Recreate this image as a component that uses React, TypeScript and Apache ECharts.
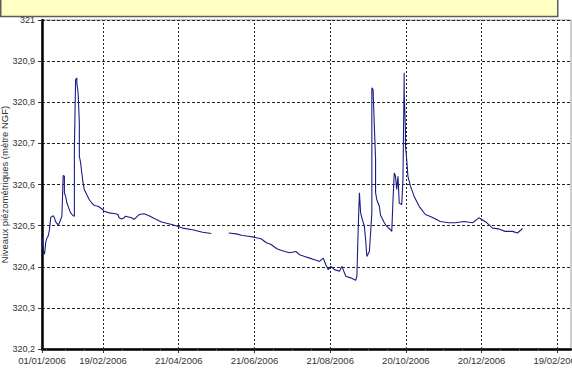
import React, { useEffect, useRef } from "react";
import * as echarts from "echarts";

// Measurement dates (yyyy-mm-dd) and piezometric levels (m NGF); null = gap in record
const dates: string[] = [
  "2006-01-01","2006-01-02","2006-01-03","2006-01-04","2006-01-05","2006-01-06","2006-01-07","2006-01-08",
  "2006-01-10","2006-01-11","2006-01-12","2006-01-14","2006-01-15","2006-01-16","2006-01-17","2006-01-18",
  "2006-01-19","2006-01-19","2006-01-20","2006-01-21","2006-01-23","2006-01-24","2006-01-26","2006-01-27",
  "2006-01-27","2006-01-28","2006-01-29","2006-01-29","2006-01-30","2006-01-31","2006-01-31","2006-02-01",
  "2006-02-02","2006-02-03","2006-02-04","2006-02-06","2006-02-08","2006-02-10","2006-02-12","2006-02-15",
  "2006-02-18","2006-02-20","2006-02-24","2006-03-01","2006-03-03","2006-03-04","2006-03-06","2006-03-08",
  "2006-03-09","2006-03-14","2006-03-16","2006-03-20","2006-03-24","2006-03-28","2006-04-02","2006-04-07",
  "2006-04-16","2006-04-24","2006-05-02","2006-05-10","2006-05-17","2006-05-24","2006-05-31","2006-06-06",
  "2006-06-11","2006-06-16","2006-06-20","2006-06-26","2006-06-30","2006-07-04","2006-07-09","2006-07-15",
  "2006-07-19","2006-07-24","2006-07-27","2006-07-31","2006-08-04","2006-08-08","2006-08-12","2006-08-15",
  "2006-08-17","2006-08-19","2006-08-21","2006-08-24","2006-08-28","2006-08-30","2006-09-02","2006-09-06",
  "2006-09-10","2006-09-11","2006-09-12","2006-09-13","2006-09-14","2006-09-15","2006-09-17","2006-09-18",
  "2006-09-19","2006-09-21","2006-09-22","2006-09-23","2006-09-23","2006-09-24","2006-09-25","2006-09-26",
  "2006-09-26","2006-09-27","2006-09-29","2006-09-30","2006-10-03","2006-10-05","2006-10-08","2006-10-09",
  "2006-10-10","2006-10-11","2006-10-12","2006-10-13","2006-10-14","2006-10-15","2006-10-17","2006-10-18",
  "2006-10-19","2006-10-19","2006-10-20","2006-10-20","2006-10-21","2006-10-22","2006-10-24","2006-10-27",
  "2006-10-31","2006-11-05","2006-11-10","2006-11-17","2006-11-24","2006-11-29","2006-12-06","2006-12-13",
  "2006-12-18","2006-12-24","2006-12-29","2007-01-03","2007-01-08","2007-01-14","2007-01-18","2007-01-21",
  "2007-01-22",
];

const levels: (number | null)[] = [
  320.47, 320.44, 320.43, 320.46, 320.47, 320.475, 320.49, 320.52,
  320.524, 320.519, 320.509, 320.502, 320.507, 320.515, 320.523, 320.622,
  320.62, 320.58, 320.571, 320.555, 320.539, 320.531, 320.524, 320.523,
  320.685, 320.855, 320.859, 320.847, 320.823, 320.75, 320.669, 320.653,
  320.628, 320.604, 320.588, 320.575, 320.563, 320.555, 320.549, 320.547,
  320.541, 320.535, 320.531, 320.529, 320.527, 320.519, 320.516, 320.519,
  320.523, 320.519, 320.515, 320.527, 320.529, 320.524, 320.516, 320.509,
  320.502, 320.494, 320.49, 320.484, 320.481, null, 320.482, 320.48,
  320.476, 320.474, 320.472, 320.468, 320.459, 320.454, 320.443, 320.437,
  320.434, 320.437, 320.429, 320.425, 320.421, 320.417, 320.413, 320.421,
  320.405, 320.393, 320.401, 320.393, 320.389, 320.401, 320.377, 320.373,
  320.367, 320.377, 320.49, 320.58, 320.531, 320.519, 320.498, 320.466,
  320.425, 320.437, 320.482, 320.531, 320.835, 320.831, 320.742, 320.661,
  320.58, 320.563, 320.547, 320.525, 320.507, 320.498, 320.49, 320.486,
  320.563, 320.628, 320.62, 320.588, 320.62, 320.555, 320.551, 320.612,
  320.872, 320.823, 320.734, 320.693, 320.661, 320.62, 320.596, 320.571,
  320.547, 320.527, 320.521, 320.51, 320.507, 320.507, 320.51, 320.507,
  320.519, 320.508, 320.494, 320.492, 320.486, 320.486, 320.482, 320.49,
  320.493,
];

const AXIS_START = "2006-01-01";
const AXIS_END = "2007-03-02";
const TICK_ORIGIN = "2006-02-19"; // first regular tick (ticks every two months)
const TICK_STEP_DAYS = 365 / 6;
const MINOR_PER_STEP = 4;
const Y_MIN = 320.2;
const Y_MAX = 321;
const Y_STEP = 0.1;
const Y_NAME = "Niveaux piézométriques (mètre NGF)";

const DAY = 86400000;
const parse = (s: string) => {
  const [y, m, d] = s.split("-").map(Number);
  return Date.UTC(y, m - 1, d);
};
const ORIGIN = parse(TICK_ORIGIN);
const toX = (s: string) => (parse(s) - ORIGIN) / DAY;
const pad = (n: number) => (n < 10 ? "0" + n : "" + n);
const fmtDate = (v: number) => {
  const d = new Date(ORIGIN + Math.round(v) * DAY);
  return `${pad(d.getUTCDate())}/${pad(d.getUTCMonth() + 1)}/${d.getUTCFullYear()}`;
};

export default function App() {
  const ref = useRef<HTMLDivElement>(null);
  useEffect(() => {
    if (!ref.current) return;
    const chart = echarts.init(ref.current, undefined, { renderer: "svg" });
    const data = dates.map((d, i) => [toX(d), levels[i]]);
    const xMin = toX(AXIS_START);
    const xMax = toX(AXIS_END);
    const majors: number[] = [xMin];
    for (let k = 0; k * TICK_STEP_DAYS <= xMax; k++) majors.push(k * TICK_STEP_DAYS);
    const minors: number[] = [];
    const mStep = TICK_STEP_DAYS / MINOR_PER_STEP;
    for (let k = Math.ceil(xMin / mStep); k * mStep <= xMax; k++) {
      if (k % MINOR_PER_STEP !== 0 && k * mStep > xMin) minors.push(k * mStep);
    }
    const font = "'Liberation Sans', Arial, sans-serif";
    const dashV = { color: "#222", type: [2, 2] as number[], width: 1 };
    chart.setOption({
      animation: false,
      backgroundColor: "#ffffff",
      graphic: [
        {
          type: "rect",
          shape: { x: 0.75, y: -10, width: 557, height: 26.5 },
          style: { fill: "#ffffc4", stroke: "#5c5c5c", lineWidth: 1.5 },
          z: 10,
        },
      ],
      grid: {
        left: 42,
        right: 1,
        top: 20,
        bottom: 34,
        containLabel: false,
        outerBoundsMode: "none",
        show: true,
        borderColor: "#9a9a9a",
        borderWidth: 1,
        backgroundColor: "#ffffff",
      },
      xAxis: [
        {
          type: "value",
          min: xMin,
          max: xMax,
          axisLine: { show: true, onZero: false, lineStyle: { color: "#000", width: 2.5 } },
          axisTick: { show: true, length: 4, customValues: majors, lineStyle: { color: "#333" } },
          axisLabel: {
            customValues: majors,
            margin: 6,
            fontSize: 9.5,
            fontFamily: font,
            color: "#333",
            formatter: (v: number) => fmtDate(v),
          },
          splitLine: { show: false },
        },
        {
          type: "value",
          min: xMin,
          max: xMax,
          position: "bottom",
          axisLine: { show: false, onZero: false },
          axisTick: { show: true, length: 2, customValues: minors, lineStyle: { color: "#555" } },
          axisLabel: { show: false },
          splitLine: { show: false },
        },
      ],
      yAxis: {
        type: "value",
        position: "left",
        min: Y_MIN,
        max: Y_MAX,
        interval: Y_STEP,
        name: Y_NAME,
        nameLocation: "middle",
        nameGap: 33,
        nameMoveOverlap: false,
        nameTextStyle: { fontSize: 9.5, fontFamily: font, color: "#333" },
        axisLine: { show: true, onZero: false, lineStyle: { color: "#000", width: 2.5 } },
        axisTick: { show: true, length: 4, lineStyle: { color: "#333" } },
        axisLabel: {
          margin: 7,
          fontSize: 9,
          fontFamily: font,
          color: "#333",
          formatter: (v: number) => String(+v.toFixed(1)).replace(".", ","),
        },
        splitLine: { show: true, lineStyle: { color: "#222", type: [3, 2], width: 1 } },
      },
      series: [
        {
          type: "line",
          xAxisIndex: 0,
          data,
          showSymbol: false,
          connectNulls: false,
          lineStyle: { color: "#1c1c86", width: 1.1 },
          itemStyle: { color: "#1c1c86" },
          markLine: {
            silent: true,
            symbol: "none",
            label: { show: false },
            lineStyle: dashV,
            emphasis: { disabled: true },
            data: majors.filter((v) => v > xMin).map((v) => ({ xAxis: v })),
          },
          z: 3,
        },
      ],
    });
    return () => chart.dispose();
  }, []);
  return (
    <div
      ref={ref}
      style={{ position: "fixed", left: 0, top: 0, width: 572, height: 383 }}
    />
  );
}
